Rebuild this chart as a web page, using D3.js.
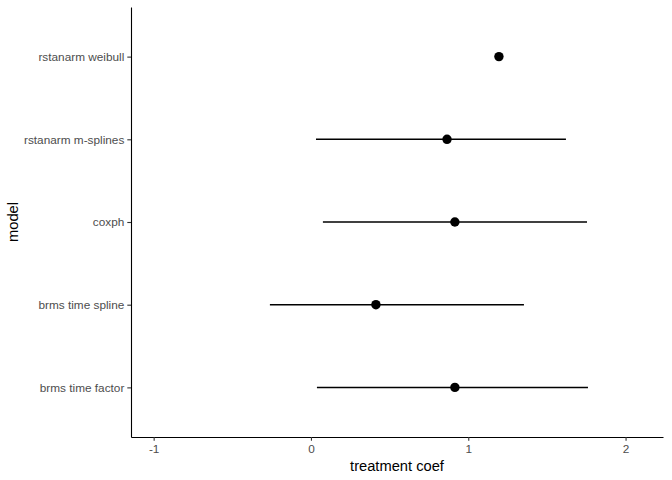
<!DOCTYPE html>
<html>
<head>
<meta charset="utf-8">
<script src="https://cdn.jsdelivr.net/npm/d3@7"></script>
<style>
  body { margin: 0; background: #fff; }
  svg { display: block; }
  svg text { font-family: "Liberation Sans", Arial, sans-serif; }
</style>
</head>
<body>
<svg id="svg" width="672" height="480"></svg>
<script>
// data, bottom to top as ggplot draws a discrete y axis
const models = ['brms time factor', 'brms time spline', 'coxph', 'rstanarm m-splines', 'rstanarm weibull'];
const estimate = [0.915, 0.413, 0.915, 0.865, 1.195];
const lower = [0.038, -0.261, 0.076, 0.032, null];
const upper = [1.761, 1.354, 1.755, 1.621, null];
const xTicks = [-1, 0, 1, 2];

const margin = {top: 7, right: 9, bottom: 43, left: 131};
const width = 672 - margin.left - margin.right;
const height = 480 - margin.top - margin.bottom;

const svg = d3.select('#svg');
const g = svg.append('g').attr('transform', `translate(${margin.left},${margin.top})`);

const rows = models.map((m, i) => ({model: m, est: estimate[i], lo: lower[i], hi: upper[i]}));

const x = d3.scaleLinear().domain([-1.144, 2.238]).range([0, width]);
// discrete axis with 0.6 unit padding at each end
const y = d3.scalePoint().domain(models).range([height, 0]).padding(0.6);

function styleAxis(ax) {
  ax.attr('font-family', null).attr('font-size', null);
  ax.select('.domain').attr('stroke', '#000').attr('stroke-width', 1.1);
  ax.selectAll('.tick line').attr('stroke', '#333').attr('stroke-width', 1.1);
  ax.selectAll('.tick text').attr('fill', '#4d4d4d').style('font-size', '11.8px');
}

// x axis
const xAx = g.append('g')
  .attr('transform', `translate(0,${height})`)
  .call(d3.axisBottom(x).tickValues(xTicks).tickFormat(d => String(d)).tickSize(3.7).tickSizeOuter(0).tickPadding(3.5));
styleAxis(xAx);

// y axis
const yAx = g.append('g')
  .call(d3.axisLeft(y).tickSize(3.7).tickSizeOuter(0).tickPadding(3));
styleAxis(yAx);

// error bars
g.append('g').selectAll('line')
  .data(rows.filter(d => d.lo != null)).join('line')
    .attr('x1', d => x(d.lo)).attr('x2', d => x(d.hi))
    .attr('y1', d => y(d.model)).attr('y2', d => y(d.model))
    .attr('stroke', '#000').attr('stroke-width', 1.5);

// points
g.append('g').selectAll('circle')
  .data(rows).join('circle')
    .attr('cx', d => x(d.est)).attr('cy', d => y(d.model))
    .attr('r', 4.7).attr('fill', '#000');

// axis titles
svg.append('text')
  .attr('x', margin.left + width / 2).attr('y', 471)
  .attr('text-anchor', 'middle').style('font-size', '14.7px').attr('fill', '#000')
  .text('treatment coef');

svg.append('text')
  .attr('transform', `translate(18,${margin.top + height / 2}) rotate(-90)`)
  .attr('text-anchor', 'middle').style('font-size', '14.7px').attr('fill', '#000')
  .text('model');
</script>
</body>
</html>
